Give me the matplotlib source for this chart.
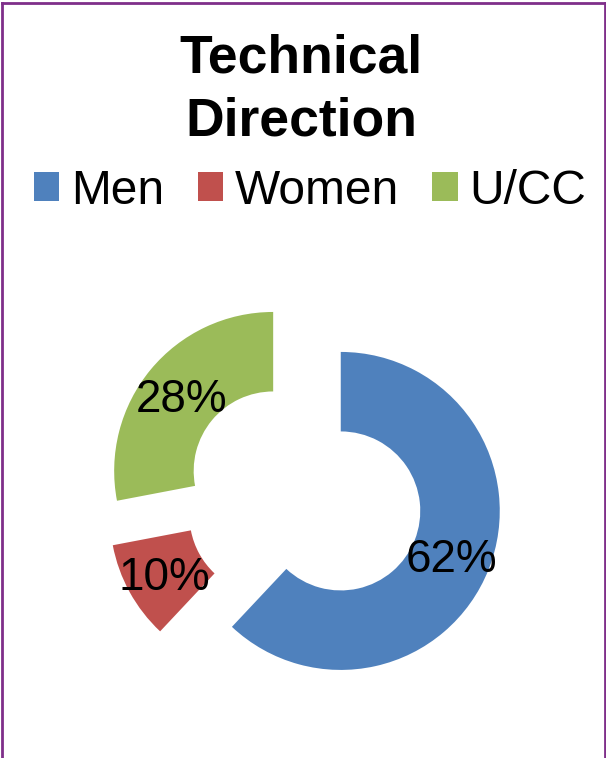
import matplotlib
matplotlib.use("Agg")
import matplotlib.pyplot as plt
from matplotlib.lines import Line2D

categories = ["Men", "Women", "U/CC"]
values = [62, 10, 28]
colors = ["#4F81BD", "#C0504D", "#9BBB59"]
title = "Technical\nDirection"

W, H, DPI = 606, 758, 100
fig = plt.figure(figsize=(W / DPI, H / DPI), dpi=DPI)
ax = fig.add_axes([0, 0, 1, 1])

font = "Liberation Sans"
wedges, texts, autotexts = ax.pie(
    values, colors=colors, startangle=90, counterclock=False,
    explode=[0.25] * len(values), radius=1.0,
    wedgeprops=dict(width=0.5, linewidth=0),
    autopct=lambda p: f"{p:.0f}%", pctdistance=0.75,
    textprops=dict(fontsize=33, family=font, color="black"),
)
for t in autotexts:
    t.set_va("center_baseline")

# pixel geometry: radius 159 px, centre at (303.8, 496.3 from top)
R = 159.0
cx, cy_top = 303.8, 496.3
cy = H - cy_top
ax.set_aspect("auto")
ax.set_xlim(-cx / R, (W - cx) / R)
ax.set_ylim(-cy / R, (H - cy) / R)
ax.axis("off")

fig.text(301 / W, 1 - 135 / H, title, ha="center", va="baseline",
         fontsize=38.5, fontweight="bold", family=font, linespacing=1.32)

leg = fig.legend(wedges, categories, loc="center",
                 bbox_to_anchor=(310 / W, 1 - 191 / H), ncol=3,
                 frameon=False, prop=dict(family=font, size=34.5),
                 handlelength=0.53, handleheight=0.53, handletextpad=0.24,
                 columnspacing=0.7, borderpad=0, borderaxespad=0)

border = "#7F2F8A"
lw = 2.0
fig.add_artist(Line2D([1.5 / W, 1.5 / W], [0, 1 - 2.5 / H], transform=fig.transFigure, color=border, lw=lw))
fig.add_artist(Line2D([(W - 1.5) / W, (W - 1.5) / W], [0, 1 - 2.5 / H], transform=fig.transFigure, color=border, lw=lw))
fig.add_artist(Line2D([1.5 / W, (W - 1.5) / W], [1 - 2.5 / H, 1 - 2.5 / H], transform=fig.transFigure, color=border, lw=lw))

fig.savefig("out.png", dpi=DPI, facecolor="white")
